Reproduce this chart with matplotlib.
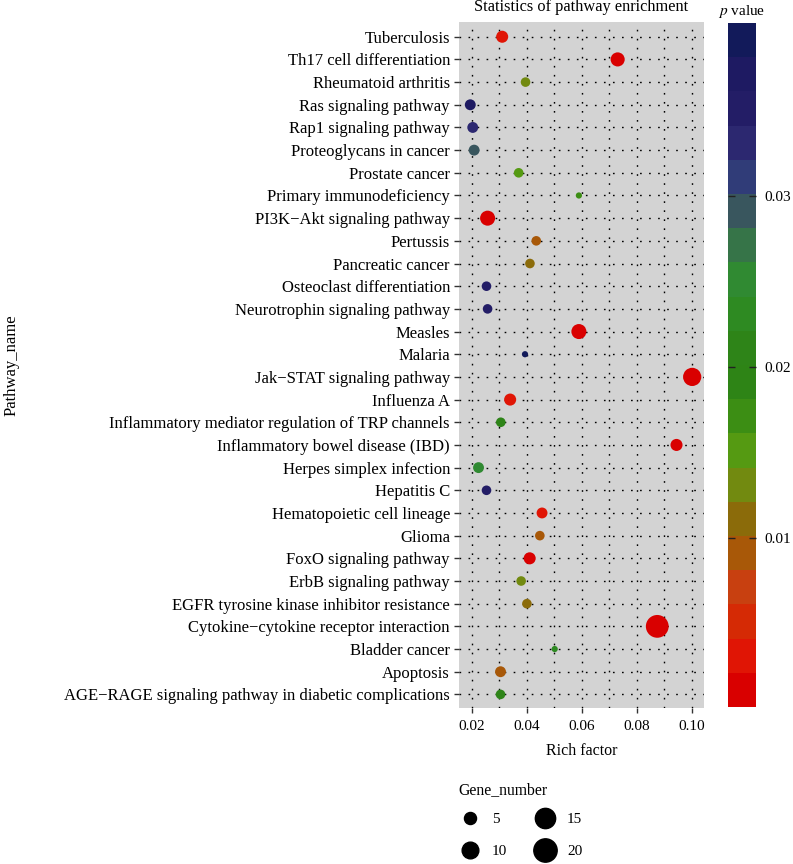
import numpy as np
import matplotlib
matplotlib.use("Agg")
import matplotlib.pyplot as plt
from matplotlib.colors import ListedColormap, BoundaryNorm
from matplotlib.lines import Line2D
from matplotlib.ticker import NullLocator

plt.rcParams['font.family'] = ['Liberation Serif', 'DejaVu Serif']
plt.rcParams['mathtext.fontset'] = 'stix'

# ---------------- data ----------------
pathways = [
    "Tuberculosis", "Th17 cell differentiation", "Rheumatoid arthritis",
    "Ras signaling pathway", "Rap1 signaling pathway", "Proteoglycans in cancer",
    "Prostate cancer", "Primary immunodeficiency", "PI3K\u2212Akt signaling pathway",
    "Pertussis", "Pancreatic cancer", "Osteoclast differentiation",
    "Neurotrophin signaling pathway", "Measles", "Malaria",
    "Jak\u2212STAT signaling pathway", "Influenza A",
    "Inflammatory mediator regulation of TRP channels",
    "Inflammatory bowel disease (IBD)", "Herpes simplex infection", "Hepatitis C",
    "Hematopoietic cell lineage", "Glioma", "FoxO signaling pathway",
    "ErbB signaling pathway", "EGFR tyrosine kinase inhibitor resistance",
    "Cytokine\u2212cytokine receptor interaction", "Bladder cancer", "Apoptosis",
    "AGE\u2212RAGE signaling pathway in diabetic complications",
]
rich_factor = [
    0.0310, 0.0730, 0.0395, 0.0194, 0.0203, 0.0208, 0.0370, 0.0589, 0.0257, 0.0434,
    0.0411, 0.0253, 0.0257, 0.0589, 0.0393, 0.1001, 0.0339, 0.0305, 0.0944, 0.0224,
    0.0253, 0.0455, 0.0447, 0.0410, 0.0379, 0.0400, 0.0874, 0.0501, 0.0304, 0.0304,
]
p_value = [
    0.0040, 0.0010, 0.0130, 0.0380, 0.0330, 0.0290, 0.0150, 0.0170, 0.0005, 0.0090,
    0.0110, 0.0350, 0.0350, 0.0010, 0.0395, 0.0002, 0.0030, 0.0210, 0.0010, 0.0250,
    0.0350, 0.0030, 0.0090, 0.0020, 0.0130, 0.0120, 0.0001, 0.0230, 0.0090, 0.0210,
]
gene_number = [
    5, 7, 3, 4, 4, 4, 3, 1, 8, 3,
    3, 3, 3, 8, 1, 12, 5, 3, 5, 4,
    3, 4, 3, 5, 3, 3, 19, 1, 4, 3,
]
legend_sizes = [5, 10, 15, 20]
x_ticks = [0.02, 0.04, 0.06, 0.08, 0.10]
x_tick_labels = ["0.02", "0.04", "0.06", "0.08", "0.10"]
cbar_ticks = [0.01, 0.02, 0.03]
cbar_tick_labels = ["0.01", "0.02", "0.03"]

# 20-step colour bar (low p -> high p)
bin_colors = [
    "#D90000", "#E01505", "#D52A05", "#C84010", "#A85808",
    "#8B6B0A", "#728A10", "#559A12", "#3C8E14", "#2E8416",
    "#2E8418", "#2E8A22", "#308A32", "#367448", "#39565E",
    "#303C78", "#2C2870", "#231D66", "#1E1A62", "#121A5A",
]
p_min, p_max = 0.0001, 0.0401

# ---------------- figure ----------------
DPI = 100
W, H = 793, 864
fig = plt.figure(figsize=(W / DPI, H / DPI), dpi=DPI)
ax = fig.add_axes([459 / W, 1 - 708 / H, (704 - 459) / W, (708 - 22) / H])
cax = fig.add_axes([728 / W, 1 - 707 / H, (756 - 728) / W, (707 - 23) / H])

cmap = ListedColormap(bin_colors)
bounds = np.linspace(p_min, p_max, len(bin_colors) + 1)
norm = BoundaryNorm(bounds, cmap.N)


def size_to_s(g):
    d_px = np.sqrt(12 + 26.7 * np.asarray(g, dtype=float))
    return (d_px * 72.0 / DPI) ** 2


n = len(pathways)
ypos = np.arange(n)[::-1]

ax.set_facecolor("#D3D3D3")
for sp in ax.spines.values():
    sp.set_visible(False)

ax.set_xlim(0.0153, 0.1044)
ax.set_ylim(-0.6, n - 1 + 0.65)

# dotted grid
dot_style = dict(color="black", linewidth=1.0, linestyle=(0, (1.2, 5.3)), zorder=1)
for xv in np.arange(0.02, 0.1001, 0.01):
    ax.axvline(xv, **dot_style)
for yv in ypos:
    ax.axhline(yv, **dot_style)

sc = ax.scatter(rich_factor, ypos, s=size_to_s(gene_number), c=p_value,
                cmap=cmap, norm=norm, edgecolors="none", zorder=3)

ax.set_yticks(ypos)
ax.set_yticklabels(pathways, fontsize=12, color="black")
ax.set_xticks(x_ticks)
ax.set_xticklabels(x_tick_labels, fontsize=11)
ax.tick_params(axis="both", length=3.5, width=1.0, color="#333333", pad=3)
ax.tick_params(axis="x", pad=5)

ax.set_xlabel("Rich factor", fontsize=11.5, labelpad=7)
fig.text(581 / W, 1 - 7 / H, "Statistics of pathway enrichment", fontsize=11.8,
         ha="center", va="center")
fig.text(12 / W, 1 - 365 / H, "Pathway_name", rotation=90, fontsize=12,
         ha="center", va="center")

# colour bar
cb = fig.colorbar(sc, cax=cax, ticks=cbar_ticks, drawedges=False)
cb.outline.set_visible(False)
cb.minorticks_off()
cax.yaxis.set_minor_locator(NullLocator())
cax.tick_params(axis="y", which="major", length=5, width=1.0, direction="in",
                color="#222222", labelsize=11, pad=6, right=True, left=True)
cax.set_yticks(cbar_ticks)
cax.set_yticklabels(cbar_tick_labels)
cax.set_ylim(p_min, p_max)
cax.text(0.5, 1.005, "$p$ value", transform=cax.transAxes, ha="center",
         va="bottom", fontsize=11)

# size legend
fig.text(458 / W, 1 - 790 / H, "Gene_number", fontsize=11.3, ha="left", va="center")
handles = [Line2D([], [], linestyle="none", marker="o", color="black",
                  markersize=np.sqrt(size_to_s(g)), label=str(g))
           for g in legend_sizes]
leg = fig.legend(handles=handles, ncol=2, frameon=False,
                 loc="upper left", bbox_to_anchor=(444 / W, 1 - 802 / H),
                 fontsize=11, handletextpad=0.45,
                 columnspacing=1.45, labelspacing=1.2, borderpad=0.2)

fig.savefig("out.png", dpi=DPI)
